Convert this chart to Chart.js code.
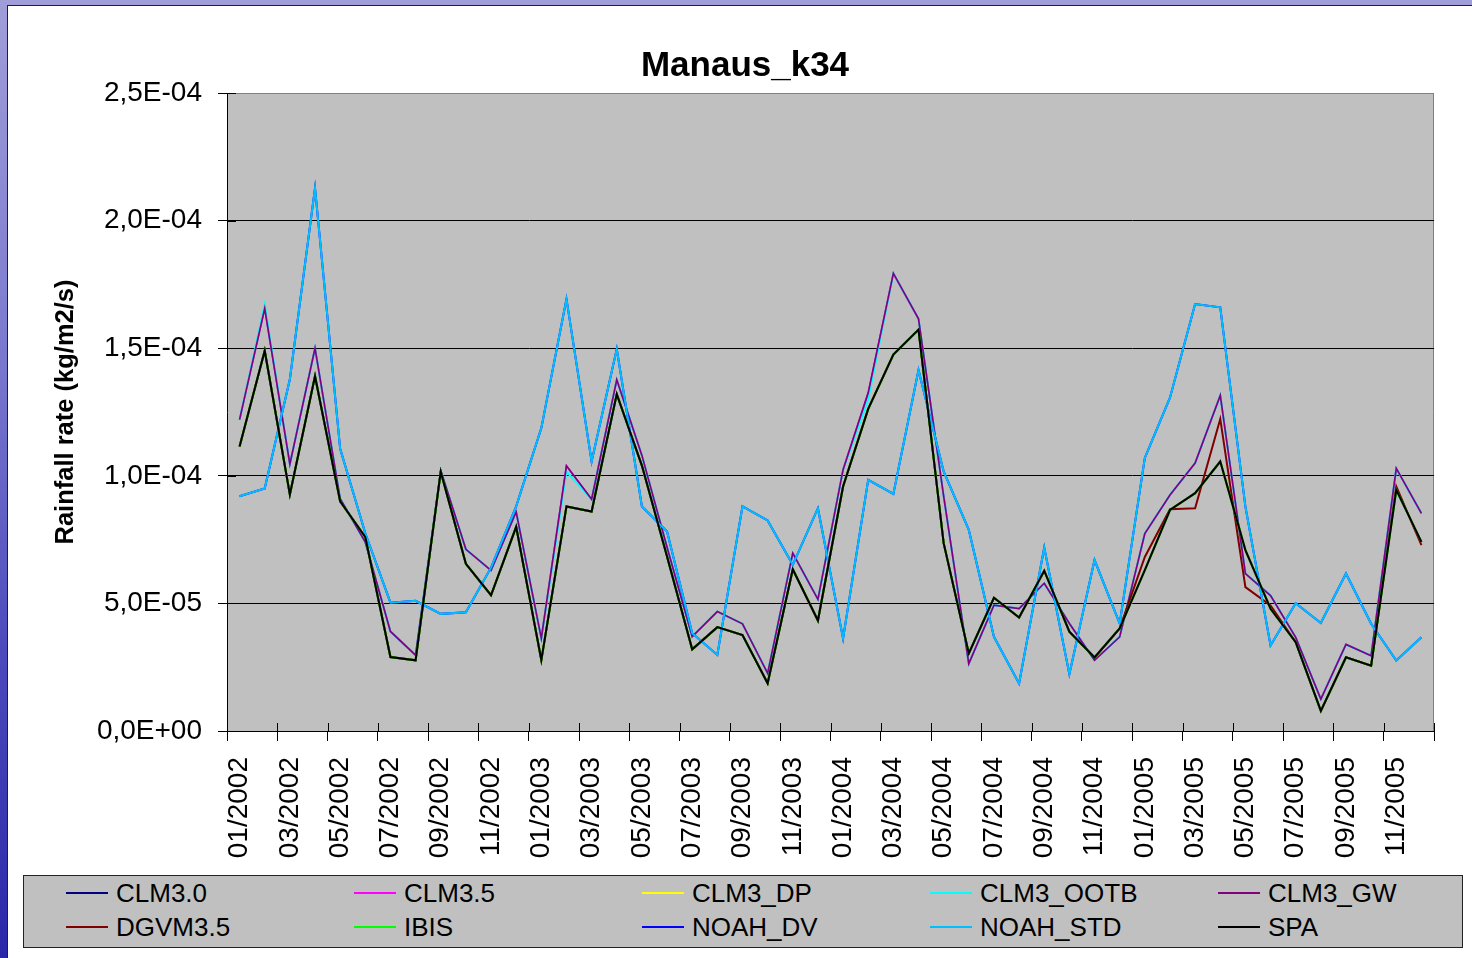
<!DOCTYPE html>
<html>
<head>
<meta charset="utf-8">
<script src="https://cdn.jsdelivr.net/npm/chart.js@4.4.1/dist/chart.umd.min.js"></script>
<style>
  html, body { margin: 0; padding: 0; width: 1472px; height: 958px; overflow: hidden; }
  body { background: linear-gradient(to bottom, #a09ed9 0%, #7d7bcf 35%, #4a48bb 70%, #2a28a8 100%); position: relative; font-family: "Liberation Sans", Arial, sans-serif; }
  #sheet { position: absolute; left: 7px; top: 5px; width: 1480px; height: 970px; background: #fff; border-left: 1px solid #222; border-top: 1px solid #222; }
  #cv { position: absolute; left: 0; top: 0; }
  #legend { position: absolute; left: 23px; top: 875px; width: 1438px; height: 71px; background: #c0c0c0; border: 1px solid #222; box-sizing: content-box; }
  .item { position: absolute; height: 34px; display: flex; align-items: center; font-size: 26px; color: #000; white-space: nowrap; }
  .item .ln { display: inline-block; width: 42px; height: 2px; margin-right: 8px; }
</style>
</head>
<body>
<div id="sheet"></div>
<canvas id="cv" width="1472" height="875"></canvas>
<div id="legend"></div>
<script>
// ---- data (kg/m2/s) ----
const months = [
  "01/2002","02/2002","03/2002","04/2002","05/2002","06/2002","07/2002","08/2002","09/2002","10/2002","11/2002","12/2002",
  "01/2003","02/2003","03/2003","04/2003","05/2003","06/2003","07/2003","08/2003","09/2003","10/2003","11/2003","12/2003",
  "01/2004","02/2004","03/2004","04/2004","05/2004","06/2004","07/2004","08/2004","09/2004","10/2004","11/2004","12/2004",
  "01/2005","02/2005","03/2005","04/2005","05/2005","06/2005","07/2005","08/2005","09/2005","10/2005","11/2005","12/2005"
];
const yTicks = [0, 5e-5, 1e-4, 1.5e-4, 2e-4, 2.5e-4];

const clm30 = [
  11.15e-5,14.9e-5,9.27e-5,13.9e-5,9.0e-5,7.6e-5,2.9e-5,2.77e-5,10.16e-5,6.55e-5,5.32e-5,8.0e-5,
  2.78e-5,8.8e-5,8.6e-5,13.2e-5,10.4e-5,6.84e-5,3.2e-5,4.07e-5,3.76e-5,1.87e-5,6.34e-5,4.33e-5,
  9.58e-5,12.62e-5,14.75e-5,15.73e-5,7.36e-5,3.04e-5,5.22e-5,4.45e-5,6.28e-5,3.89e-5,2.88e-5,4.02e-5,
  6.3e-5,8.66e-5,9.32e-5,10.56e-5,7.09e-5,4.79e-5,3.48e-5,0.79e-5,2.89e-5,2.56e-5,9.45e-5,7.41e-5
];
const clm35 = [
  12.2e-5,16.56e-5,10.46e-5,15.0e-5,9.1e-5,7.4e-5,3.9e-5,2.97e-5,10.2e-5,7.12e-5,6.29e-5,8.58e-5,
  3.63e-5,10.39e-5,9.08e-5,13.76e-5,10.8e-5,7.2e-5,3.7e-5,4.68e-5,4.2e-5,2.26e-5,6.97e-5,5.16e-5,
  10.24e-5,13.25e-5,17.93e-5,16.15e-5,9.2e-5,2.64e-5,4.93e-5,4.8e-5,5.79e-5,4.21e-5,2.77e-5,3.69e-5,
  7.74e-5,9.25e-5,10.5e-5,13.15e-5,6.17e-5,5.31e-5,3.67e-5,1.25e-5,3.39e-5,2.95e-5,10.29e-5,8.53e-5
];
const clm3dp = [
  11.15e-5,14.9e-5,9.27e-5,13.9e-5,9.0e-5,7.6e-5,2.9e-5,2.77e-5,10.16e-5,6.55e-5,5.32e-5,8.0e-5,
  2.78e-5,8.8e-5,8.6e-5,13.2e-5,10.4e-5,6.84e-5,3.2e-5,4.07e-5,3.76e-5,1.87e-5,6.34e-5,4.33e-5,
  9.58e-5,12.62e-5,14.75e-5,15.73e-5,7.36e-5,3.04e-5,5.22e-5,4.45e-5,6.28e-5,3.89e-5,2.88e-5,4.02e-5,
  6.3e-5,8.66e-5,9.32e-5,10.56e-5,7.09e-5,4.79e-5,3.48e-5,0.79e-5,2.89e-5,2.56e-5,9.45e-5,7.41e-5
];
const clm3ootb = [
  12.2e-5,16.7e-5,10.46e-5,15.0e-5,9.1e-5,7.4e-5,3.9e-5,2.97e-5,10.2e-5,7.12e-5,6.29e-5,8.58e-5,
  3.63e-5,10.17e-5,9.08e-5,13.76e-5,10.8e-5,7.2e-5,3.7e-5,4.68e-5,4.2e-5,2.26e-5,6.97e-5,5.16e-5,
  10.24e-5,13.0e-5,17.93e-5,16.15e-5,9.2e-5,2.64e-5,4.93e-5,4.8e-5,5.79e-5,4.21e-5,2.77e-5,3.69e-5,
  7.74e-5,9.25e-5,10.5e-5,13.15e-5,6.17e-5,5.31e-5,3.67e-5,1.25e-5,3.39e-5,2.95e-5,10.29e-5,8.53e-5
];
const clm3gw = [
  12.2e-5,16.56e-5,10.46e-5,15.0e-5,9.1e-5,7.4e-5,3.9e-5,2.97e-5,10.2e-5,7.12e-5,6.29e-5,8.58e-5,
  3.63e-5,10.39e-5,9.08e-5,13.76e-5,10.8e-5,7.2e-5,3.7e-5,4.68e-5,4.2e-5,2.26e-5,6.97e-5,5.16e-5,
  10.24e-5,13.25e-5,17.93e-5,16.15e-5,9.2e-5,2.64e-5,4.93e-5,4.8e-5,5.79e-5,4.21e-5,2.77e-5,3.69e-5,
  7.74e-5,9.25e-5,10.5e-5,13.15e-5,6.17e-5,5.31e-5,3.67e-5,1.25e-5,3.39e-5,2.95e-5,10.29e-5,8.53e-5
];
const dgvm35 = [
  11.15e-5,14.9e-5,9.27e-5,13.9e-5,9.0e-5,7.6e-5,2.9e-5,2.77e-5,10.16e-5,6.55e-5,5.32e-5,8.0e-5,
  2.78e-5,8.8e-5,8.6e-5,13.2e-5,10.4e-5,6.84e-5,3.2e-5,4.07e-5,3.76e-5,1.87e-5,6.34e-5,4.33e-5,
  9.58e-5,12.62e-5,14.75e-5,15.73e-5,7.36e-5,3.04e-5,5.22e-5,4.45e-5,6.28e-5,3.89e-5,2.88e-5,4.02e-5,
  6.82e-5,8.69e-5,8.73e-5,12.23e-5,5.64e-5,4.92e-5,3.48e-5,0.79e-5,2.89e-5,2.56e-5,9.58e-5,7.28e-5
];
const ibis = [
  11.15e-5,14.9e-5,9.27e-5,13.9e-5,9.0e-5,7.6e-5,2.9e-5,2.77e-5,10.16e-5,6.55e-5,5.32e-5,8.0e-5,
  2.78e-5,8.8e-5,8.6e-5,13.2e-5,10.4e-5,6.84e-5,3.2e-5,4.07e-5,3.76e-5,1.87e-5,6.34e-5,4.33e-5,
  9.58e-5,12.62e-5,14.75e-5,15.73e-5,7.36e-5,3.04e-5,5.22e-5,4.45e-5,6.28e-5,3.89e-5,2.88e-5,4.02e-5,
  6.3e-5,8.66e-5,9.32e-5,10.56e-5,7.09e-5,4.79e-5,3.48e-5,0.79e-5,2.89e-5,2.56e-5,9.45e-5,7.41e-5
];
const noahDv = [
  9.2e-5,9.5e-5,13.78e-5,21.27e-5,11.06e-5,7.75e-5,5.03e-5,5.1e-5,4.59e-5,4.65e-5,6.4e-5,8.8e-5,
  11.87e-5,16.93e-5,10.56e-5,14.97e-5,8.8e-5,7.82e-5,3.83e-5,2.98e-5,8.8e-5,8.25e-5,6.51e-5,8.73e-5,
  3.63e-5,9.84e-5,9.29e-5,14.14e-5,10.17e-5,7.88e-5,3.69e-5,1.86e-5,7.19e-5,2.23e-5,6.7e-5,4.21e-5,
  10.7e-5,13.06e-5,16.73e-5,16.6e-5,8.79e-5,3.35e-5,5.01e-5,4.23e-5,6.17e-5,4.2e-5,2.76e-5,3.67e-5
];
const noahStd = [
  9.2e-5,9.5e-5,13.78e-5,21.27e-5,11.06e-5,7.75e-5,5.03e-5,5.1e-5,4.59e-5,4.65e-5,6.4e-5,8.8e-5,
  11.87e-5,16.93e-5,10.56e-5,14.97e-5,8.8e-5,7.82e-5,3.83e-5,2.98e-5,8.8e-5,8.25e-5,6.51e-5,8.73e-5,
  3.63e-5,9.84e-5,9.29e-5,14.14e-5,10.17e-5,7.88e-5,3.69e-5,1.86e-5,7.19e-5,2.23e-5,6.7e-5,4.21e-5,
  10.7e-5,13.06e-5,16.73e-5,16.6e-5,8.79e-5,3.35e-5,5.01e-5,4.23e-5,6.17e-5,4.2e-5,2.76e-5,3.67e-5
];
const spa = [
  11.15e-5,14.9e-5,9.27e-5,13.9e-5,9.0e-5,7.6e-5,2.9e-5,2.77e-5,10.16e-5,6.55e-5,5.32e-5,8.0e-5,
  2.78e-5,8.8e-5,8.6e-5,13.2e-5,10.4e-5,6.84e-5,3.2e-5,4.07e-5,3.76e-5,1.87e-5,6.34e-5,4.33e-5,
  9.58e-5,12.62e-5,14.75e-5,15.73e-5,7.36e-5,3.04e-5,5.22e-5,4.45e-5,6.28e-5,3.89e-5,2.88e-5,4.02e-5,
  6.3e-5,8.66e-5,9.32e-5,10.56e-5,7.09e-5,4.79e-5,3.48e-5,0.79e-5,2.89e-5,2.56e-5,9.45e-5,7.41e-5
];

const seriesNames  = ["CLM3.0","CLM3.5","CLM3_DP","CLM3_OOTB","CLM3_GW","DGVM3.5","IBIS","NOAH_DV","NOAH_STD","SPA"];
const seriesData   = [clm30, clm35, clm3dp, clm3ootb, clm3gw, dgvm35, ibis, noahDv, noahStd, spa];
const seriesColors = ["#000080","#ff00ff","#ffff00","#00ffff","#800080","#800000","#00ff00","#0000ff","#00bfff","#000000"];

const FONT = "'Liberation Sans', Arial, sans-serif";

function fmtExp(v) {
  const s = Number(v).toExponential(1);
  const parts = s.split('e');
  const mant = parts[0].replace('.', ',');
  const e = parseInt(parts[1], 10);
  const sign = e < 0 ? '-' : '+';
  const ee = String(Math.abs(e)).padStart(2, '0');
  return mant + 'E' + sign + ee;
}

const plotBg = {
  id: 'plotBg',
  beforeDraw(chart) {
    const a = chart.chartArea, ctx = chart.ctx;
    ctx.save();
    ctx.fillStyle = '#c0c0c0';
    ctx.fillRect(a.left, a.top, a.right - a.left, a.bottom - a.top);
    ctx.strokeStyle = '#808080';
    ctx.lineWidth = 1;
    ctx.beginPath();
    ctx.moveTo(a.left, a.top + 0.5);
    ctx.lineTo(a.right - 0.5, a.top + 0.5);
    ctx.lineTo(a.right - 0.5, a.bottom);
    ctx.stroke();
    ctx.restore();
  }
};

// Excel-style "cross" tick marks: short inner part of each major tick, taken from the scales
const crossTicks = {
  id: 'crossTicks',
  beforeDatasetsDraw(chart) {
    const ctx = chart.ctx, a = chart.chartArea;
    const xs = chart.scales.x, ys = chart.scales.y;
    ctx.save();
    ctx.strokeStyle = '#000';
    ctx.lineWidth = 1;
    ctx.beginPath();
    const n = xs.ticks.length;
    const step = xs.getPixelForTick(1) - xs.getPixelForTick(0);
    for (let i = 0; i <= n; i += 2) {
      const px = Math.round(xs.getPixelForTick(0) + (i - 0.5) * step) + 0.5;
      ctx.moveTo(px, a.bottom);
      ctx.lineTo(px, a.bottom - 8);
    }
    ys.ticks.forEach((t, i) => {
      const py = Math.round(ys.getPixelForTick(i)) + 0.5;
      ctx.moveTo(a.left, py);
      ctx.lineTo(a.left + 9, py);
    });
    ctx.stroke();
    ctx.restore();
  }
};

const N = seriesNames.length;
const datasets = seriesNames.map((name, i) => ({
  label: name,
  data: seriesData[i],
  borderColor: seriesColors[i],
  backgroundColor: seriesColors[i],
  borderWidth: (name === 'CLM3_GW' || name === 'CLM3.5') ? 1.7 : 2,
  pointRadius: 0,
  pointHoverRadius: 0,
  tension: 0,
  fill: false,
  order: N - i
}));

new Chart(document.getElementById('cv'), {
  type: 'line',
  data: { labels: months, datasets },
  options: {
    responsive: false,
    animation: false,
    devicePixelRatio: 1,
    layout: { padding: { left: 56, right: 38, top: 0, bottom: 0 } },
    plugins: {
      legend: { display: false },
      tooltip: { enabled: false },
      title: {
        display: true,
        text: 'Manaus_k34',
        color: '#000',
        font: { family: FONT, size: 35, weight: 'bold', lineHeight: 1.2 },
        padding: { top: 45, bottom: 6 }
      }
    },
    scales: {
      x: {
        type: 'category',
        offset: true,
        grid: {
          display: true,
          drawOnChartArea: false,
          offset: true,
          tickLength: 10,
          tickColor: (ctx) => (ctx.index === undefined || ctx.index % 2 === 0) ? '#000' : 'rgba(0,0,0,0)',
          color: '#000'
        },
        border: { display: true, color: '#000', width: 1 },
        ticks: {
          autoSkip: false,
          maxRotation: 90,
          minRotation: 90,
          padding: 16,
          color: '#000',
          font: { family: FONT, size: 28 },
          callback: function(val, idx) { return idx % 2 === 0 ? this.getLabelForValue(val) : ''; }
        },
        afterFit: (scale) => { scale.height = 144; }
      },
      y: {
        type: 'linear',
        min: yTicks[0],
        max: yTicks[yTicks.length - 1],
        afterBuildTicks: (scale) => { scale.ticks = yTicks.map(v => ({ value: v })); },
        grid: {
          color: (ctx) => (ctx.tick && ctx.tick.value === yTicks[yTicks.length - 1]) ? '#808080' : '#000',
          tickColor: '#000',
          tickLength: 9,
          lineWidth: 1
        },
        border: { display: true, color: '#000', width: 1 },
        ticks: {
          padding: 16,
          color: '#000',
          font: { family: FONT, size: 28 },
          callback: (v) => fmtExp(v)
        },
        title: {
          display: true,
          text: 'Rainfall rate (kg/m2/s)',
          color: '#000',
          font: { family: FONT, size: 25.5, weight: 'bold', lineHeight: 0.8 },
          padding: { top: 0, bottom: 0 }
        },
        afterFit: (scale) => { scale.width = 171; }
      }
    }
  },
  plugins: [plotBg, crossTicks]
});

// HTML legend built from the dataset definitions (5 columns x 2 rows)
const legend = document.getElementById('legend');
seriesNames.forEach((name, i) => {
  const col = i % 5, row = Math.floor(i / 5);
  const it = document.createElement('div');
  it.className = 'item';
  it.style.left = (42 + col * 288) + 'px';
  it.style.top = (row * 34) + 'px';
  const ln = document.createElement('span');
  ln.className = 'ln';
  ln.style.background = seriesColors[i];
  const tx = document.createElement('span');
  tx.textContent = name;
  it.appendChild(ln);
  it.appendChild(tx);
  legend.appendChild(it);
});
</script>
</body>
</html>
